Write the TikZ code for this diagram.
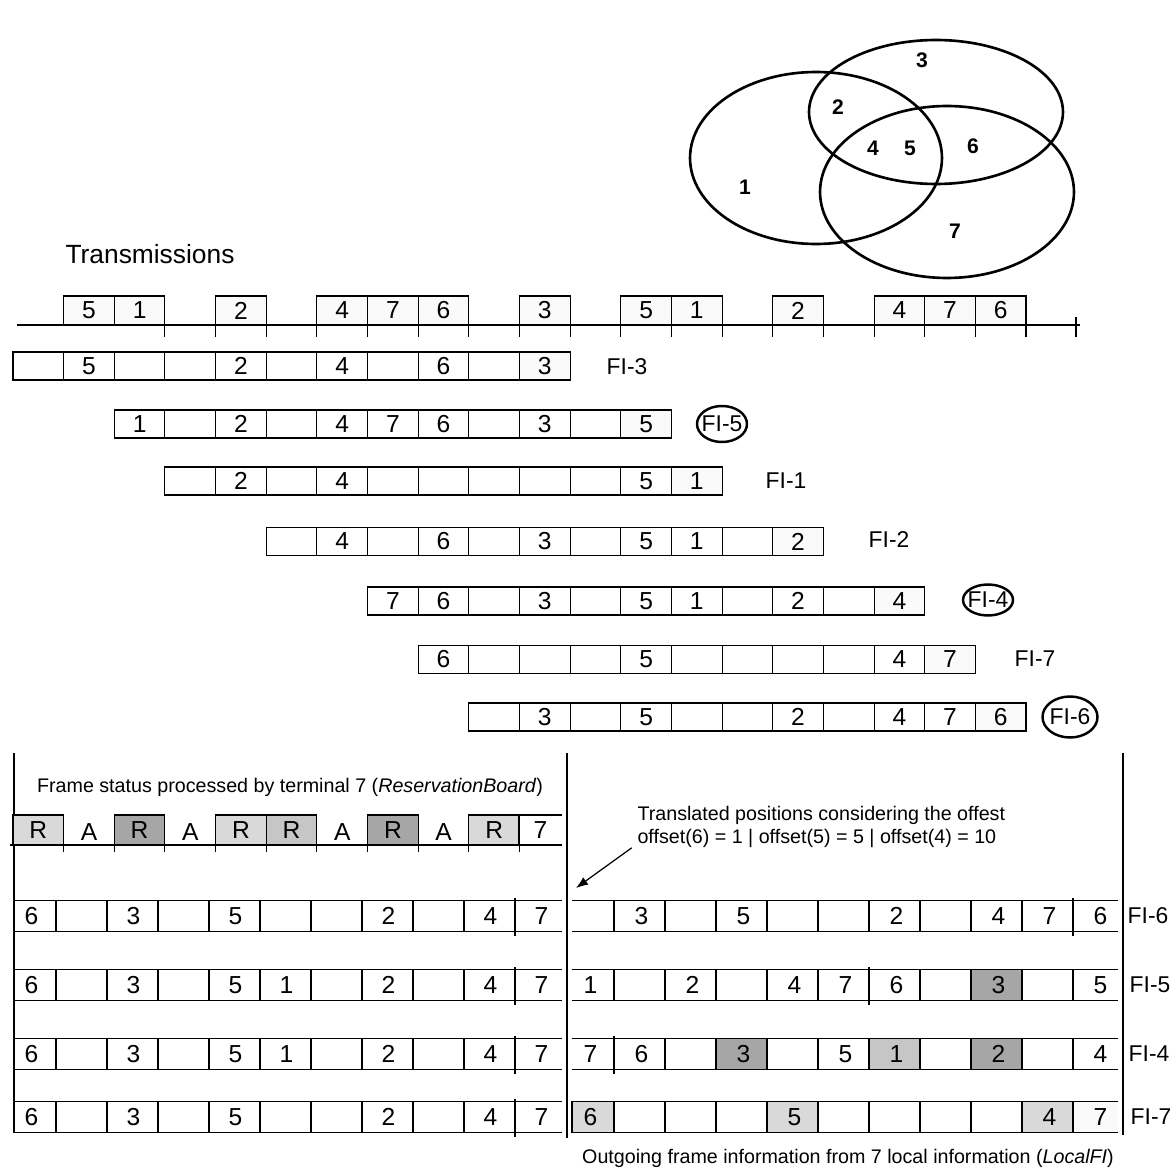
\documentclass[tikz,border=0pt]{standalone}
\usepackage{fontspec}
\setmainfont{Liberation Sans}
\usepackage{xcolor}
\usepackage{tikz}
\usetikzlibrary{arrows.meta, positioning, calc}

\definecolor{paleR}{HTML}{FAFAFA}
\definecolor{lightR}{HTML}{D9D9D9}
\definecolor{midR}{HTML}{C6C6C6}
\definecolor{darkR}{HTML}{A6A6A6}

\begin{document}
\begin{tikzpicture}[x=0.02cm, y=-0.02cm, line width=0.6pt,
  cell/.style={draw, minimum width=1.013cm, minimum height=0.56cm, inner sep=0pt, font=\fontsize{14}{16}\selectfont},
  txcell/.style={cell, fill=paleR, minimum height=0.58cm},
  rcell/.style={cell, minimum height=0.6cm},
  slot/.style={inner sep=0pt, font=\fontsize{14}{16}\selectfont},
  fi/.style={font=\fontsize{13}{15}\selectfont},
  own/.style={line width=1.4pt},
  caption/.style={font=\fontsize{11.2}{12.6}\selectfont},
  venn/.style={line width=1.5pt},
  vlabel/.style={font=\fontsize{12}{14}\selectfont\bfseries},
  arr/.style={-{Latex[length=2.4mm, width=1.8mm]}, line width=0.7pt},
]
  \useasboundingbox (0,0) rectangle (1174,1169);

  % Neighbourhood of the terminals
  \draw[venn] (816,158) ellipse [x radius=2.52cm, y radius=1.72cm];
  \draw[venn] (936,112) ellipse [x radius=2.54cm, y radius=1.44cm];
  \draw[venn] (947,192) ellipse [x radius=2.54cm, y radius=1.72cm];
  \node[vlabel] (v1) at (745,187) {1};
  \node[vlabel] (v2) at (838,107) {2};
  \node[vlabel] (v3) at (922,60) {3};
  \node[vlabel] (v4) at (873,148) {4};
  \node[vlabel] (v5) at (910,148) {5};
  \node[vlabel] (v6) at (973,146) {6};
  \node[vlabel] (v7) at (955,231) {7};

  % Transmissions
  \node[font=\fontsize{15}{18}\selectfont] (trans) at (150,254) {Transmissions};
  \draw (17,325) -- (1080,325);
  \foreach \k in {3,...,20}
    \draw ({13+50.65*\k},325) -- ++(0,12);
  \draw (1076,317) -- (1076,337);
  \foreach \k/\v in {1/5,2/1,4/2,6/4,7/7,8/6,10/3,12/5,13/1,15/2,17/4,18/7,19/6}
    \node[txcell] (tx\k) at ({38.33+50.65*\k},310.5) {\v};

  % FI-3
  \foreach \v [count=\i from 0] in {{},5,{},{},2,{},4,{},6,{}}
    \node[cell] (fi3-\i) at ({38.33+50.65*\i},366) {\v};
  \node[cell, fill=paleR] (fi3-10) at ({38.33+50.65*10},366) {3};
  \node[fi] (fi3) at (627,367) {FI-3};

  % FI-5
  \foreach \v [count=\i from 0] in {1,{},2,{},4,7,6,{},3,{}}
    \node[cell] (fi5-\i) at ({38.33+50.65*(\i+2)},424) {\v};
  \node[cell, fill=paleR] (fi5-10) at ({38.33+50.65*12},424) {5};
  \node[fi] (fi5) at (722,424) {FI-5};
  \draw[own] (fi5) ellipse [x radius=0.5cm, y radius=0.36cm];

  % FI-1
  \foreach \v [count=\i from 0] in {{},2,{},4,{},{},{},{},{},5}
    \node[cell] (fi1-\i) at ({38.33+50.65*(\i+3)},481) {\v};
  \node[cell, fill=paleR] (fi1-10) at ({38.33+50.65*13},481) {1};
  \node[fi] (fi1) at (786,481) {FI-1};

  % FI-2
  \foreach \v [count=\i from 0] in {{},4,{},6,{},3,{},5,1,{}}
    \node[cell] (fi2-\i) at ({38.33+50.65*(\i+5)},541.5) {\v};
  \node[cell, fill=paleR] (fi2-10) at ({38.33+50.65*15},541.5) {2};
  \node[fi] (fi2) at (889,540) {FI-2};

  % FI-4
  \foreach \v [count=\i from 0] in {7,6,{},3,{},5,1,{},2,{}}
    \node[cell] (fi4-\i) at ({38.33+50.65*(\i+7)},601) {\v};
  \node[cell, fill=paleR] (fi4-10) at ({38.33+50.65*17},601) {4};
  \node[fi] (fi4) at (988,600) {FI-4};
  \draw[own] (fi4) ellipse [x radius=0.5cm, y radius=0.31cm];

  % FI-7
  \foreach \v [count=\i from 0] in {6,{},{},{},5,{},{},{},{},4}
    \node[cell] (fi7-\i) at ({38.33+50.65*(\i+8)},659.5) {\v};
  \node[cell, fill=paleR] (fi7-10) at ({38.33+50.65*18},659.5) {7};
  \node[fi] (fi7) at (1035,659) {FI-7};

  % FI-6
  \foreach \v [count=\i from 0] in {{},3,{},5,{},{},2,{},4,7}
    \node[cell] (fi6-\i) at ({38.33+50.65*(\i+9)},717) {\v};
  \node[cell, fill=paleR] (fi6-10) at ({38.33+50.65*19},717) {6};
  \node[fi] (fi6) at (1070,717) {FI-6};
  \draw[own] (fi6) ellipse [x radius=0.55cm, y radius=0.41cm];

  % Frames of the lower part
  \draw (14,753) -- (14,1133);
  \draw (567,753) -- (567,1138);
  \draw (1123,753) -- (1123,1135);

  % Reservation board of terminal 7
  \node[caption] (rbtitle) at (290,787) {Frame status processed by terminal 7 (\textit{ReservationBoard})};
  \draw (10,845) -- (562,845);
  \foreach \k in {1,...,10}
    \draw ({13+50.65*\k},845) -- ++(0,7);
  \foreach \k/\c in {0/lightR,2/darkR,4/lightR,5/midR,7/darkR,9/lightR}
    \node[rcell, fill=\c] (rb\k) at ({38.33+50.65*\k},830) {R};
  \foreach \k in {1,3,6,8}
    \node[slot] (rb\k) at ({38.33+50.65*\k},832) {A};
  \draw (519,845) |- (562,815);
  \node[slot] (rb10) at (540.5,830) {7};

  % Frame information as seen by terminal 7
  \foreach \yy in {916,985,1054,1117} {
    \draw (14,{\yy-15.5}) -- (562,{\yy-15.5});
    \draw (14,{\yy+15.5}) -- (562,{\yy+15.5});
    \foreach \k in {1,...,9}
      \draw ({5+51*\k},{\yy-15.5}) -- ++(0,31);
    \draw (515,{\yy-18}) -- (515,{\yy+20});
  }
  \foreach \v [count=\i from 0] in {6,{},3,{},5,{},{},2,{},4,7}
    \node[slot] (la-\i) at ({31.5+51*\i},916) {\v};
  \foreach \v [count=\i from 0] in {6,{},3,{},5,1,{},2,{},4,7}
    \node[slot] (lb-\i) at ({31.5+51*\i},985) {\v};
  \foreach \v [count=\i from 0] in {6,{},3,{},5,1,{},2,{},4,7}
    \node[slot] (lc-\i) at ({31.5+51*\i},1054) {\v};
  \foreach \v [count=\i from 0] in {6,{},3,{},5,{},{},2,{},4,7}
    \node[slot] (ld-\i) at ({31.5+51*\i},1117) {\v};

  % Translated frame information (LocalFI)
  \filldraw[fill=darkR] (971,969.5) rectangle ++(51,31);
  \filldraw[fill=darkR] (716,1038.5) rectangle ++(51,31);
  \filldraw[fill=midR] (869,1038.5) rectangle ++(51,31);
  \filldraw[fill=darkR] (971,1038.5) rectangle ++(51,31);
  \filldraw[fill=lightR] (572,1101.5) rectangle (614,1132.5);
  \filldraw[fill=lightR] (767,1101.5) rectangle ++(51,31);
  \filldraw[fill=lightR] (1022,1101.5) rectangle ++(51,31);
  \fill[paleR] (1073,1101.5) rectangle (1118,1132.5);
  \foreach \yy in {916,985,1054,1117} {
    \draw (572,{\yy-15.5}) -- (1118,{\yy-15.5});
    \draw (572,{\yy+15.5}) -- (1118,{\yy+15.5});
    \foreach \k in {1,...,10}
      \draw ({563+51*\k},{\yy-15.5}) -- ++(0,31);
  }
  \foreach \yy/\m in {916/10,985/6,1054/1}
    \draw ({563+51*\m},{\yy-18}) -- ++(0,38);
  \foreach \v [count=\i from 0] in {{},3,{},5,{},{},2,{},4,7,6}
    \node[slot] (ra-\i) at ({590.5+51*\i},916) {\v};
  \foreach \v [count=\i from 0] in {1,{},2,{},4,7,6,{},3,{},5}
    \node[slot] (rb-\i) at ({590.5+51*\i},985) {\v};
  \foreach \v [count=\i from 0] in {7,6,{},3,{},5,1,{},2,{},4}
    \node[slot] (rc-\i) at ({590.5+51*\i},1054) {\v};
  \foreach \v [count=\i from 0] in {6,{},{},{},5,{},{},{},{},4,7}
    \node[slot] (rd-\i) at ({590.5+51*\i},1117) {\v};
  \node[fi] (rfi6) at (1148,916) {FI-6};
  \node[fi] (rfi5) at (1150,985) {FI-5};
  \node[fi] (rfi4) at (1149,1054) {FI-4};
  \node[fi] (rfi7) at (1151,1117) {FI-7};

  % Offsets
  \node[caption, align=left, anchor=west, inner sep=0pt] (offnote) at (637,827) {Translated positions considering the offest\\offset(6) = 1 | offset(5) = 5 | offset(4) = 10};
  \coordinate (tip) at (576,888);
  \draw[arr] ([xshift=-3pt]offnote.south west) -- (tip);

  \node[caption] (localfi) at (848,1158) {Outgoing frame information from 7 local information (\textit{LocalFI})};
\end{tikzpicture}
\end{document}
